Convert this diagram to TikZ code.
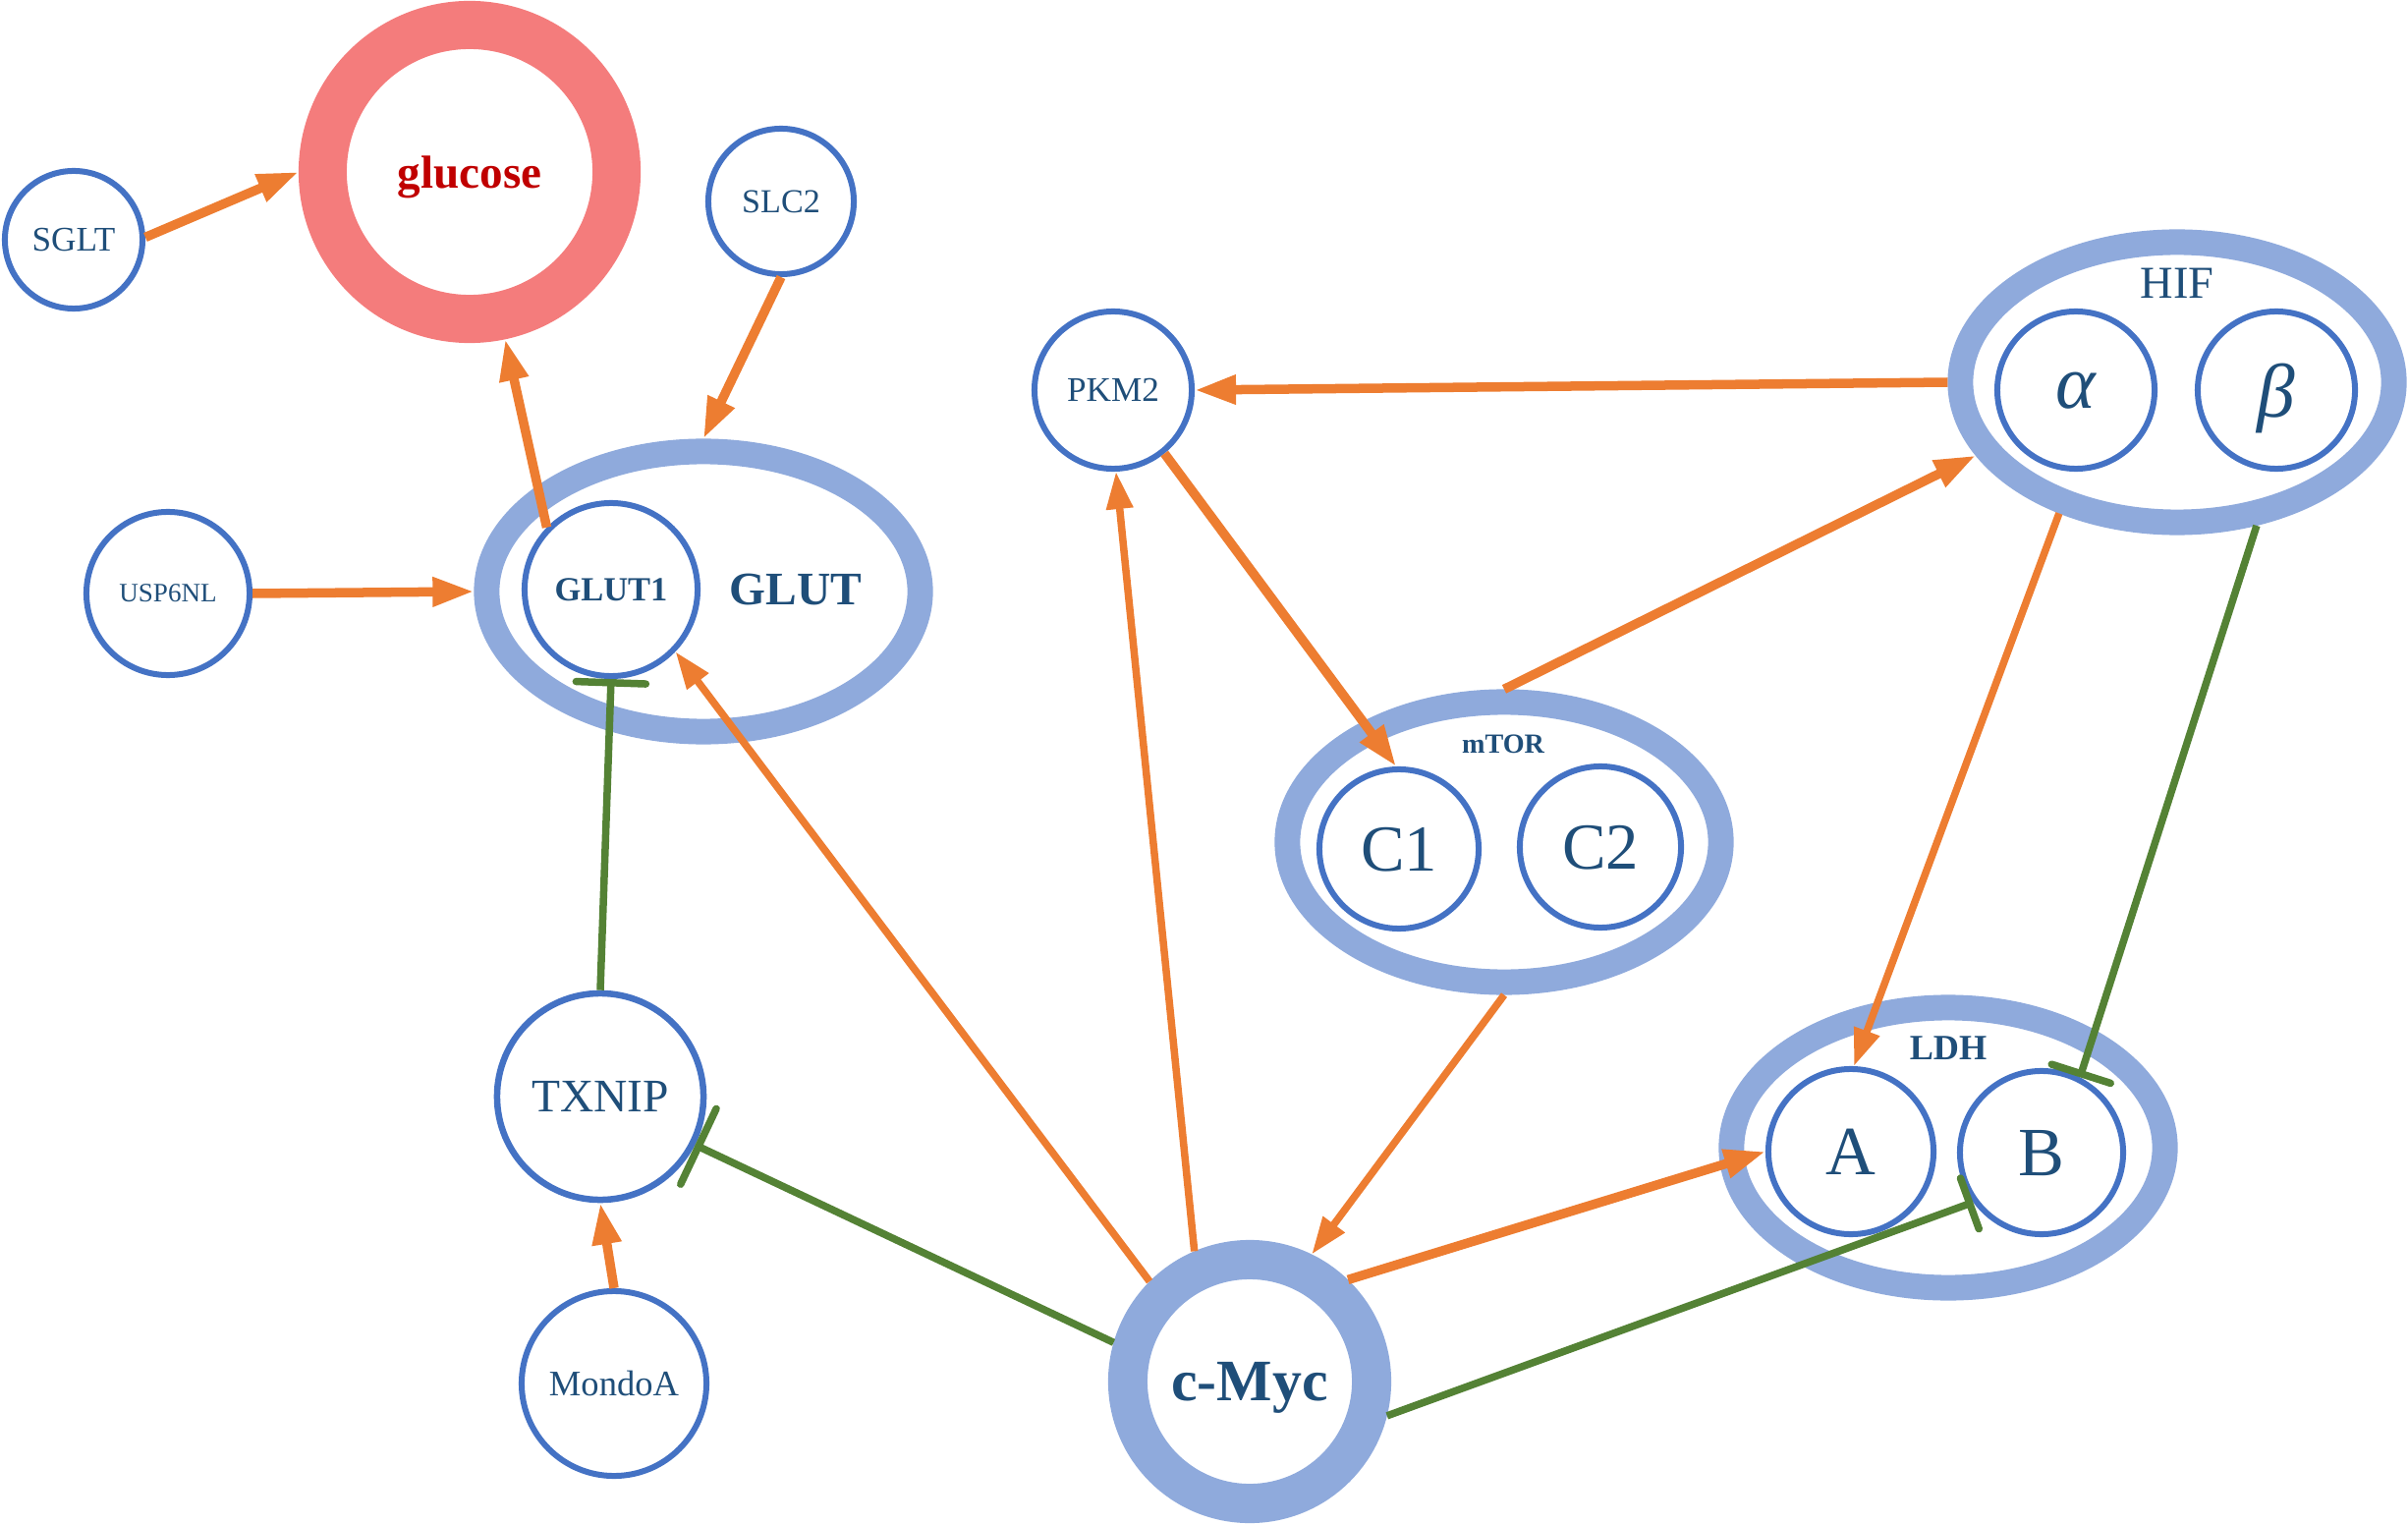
\documentclass[tikz,border=0pt]{standalone}
\usepackage{fontspec}
\setmainfont{Liberation Serif}
\usetikzlibrary{arrows.meta,shapes.geometric}
\definecolor{txtblue}{HTML}{1F4E79}
\definecolor{edgeblue}{HTML}{4472C4}
\definecolor{ringblue}{HTML}{8FAADC}
\definecolor{salmon}{HTML}{F47C7C}
\definecolor{glucred}{HTML}{C00000}
\definecolor{actorange}{HTML}{ED7D31}
\definecolor{inhgreen}{HTML}{548235}

\begin{document}
\begin{tikzpicture}[x=0.01cm,y=-0.01cm,
  fz/.style={font=\fontsize{#1}{#1}\selectfont},
  fzb/.style={font=\bfseries\fontsize{#1}{#1}\selectfont},
  mol/.style={circle, draw=edgeblue, line width=0.06cm, inner sep=0pt,
    minimum size=#1, text=txtblue, text depth=0pt},
  ring/.style={ellipse, draw=ringblue, line width=0.26cm, inner sep=0pt,
    minimum width=4.41cm, minimum height=2.85cm},
  lbl/.style={text=txtblue, inner sep=0pt, text depth=0pt},
  act/.style={draw=actorange, line width=0.095cm,
    -{Triangle[length=0.42cm,width=0.28cm]}},
  actthin/.style={draw=actorange, line width=0.075cm,
    -{Triangle[length=0.38cm,width=0.26cm]}},
  inh/.style={draw=inhgreen, line width=0.075cm, -{Bar[width=#1, round]}},
]
\useasboundingbox (0,0) rectangle (2451,1552);

% glucose and its transporters
\node[circle, draw=salmon, line width=0.49cm, minimum size=2.99cm, inner sep=0pt,
  text=glucred, text depth=0pt, fzb=13.4pt] (glucose) at (478,175) {glucose};
\node[mol=1.40cm, fz=10pt] (sglt) at (75,244) {SGLT};
\node[mol=1.48cm, fz=9.7pt] (slc2) at (795,205) {SLC2};
\node[mol=1.66cm, fz=7.7pt] (usp) at (171,604) {USP6NL};

% GLUT complex
\node[ring] (glut) at (716,602) {};
\node[mol=1.76cm, fzb=9.8pt] (glut1) at (622,600) {GLUT1};
\node[lbl, fzb=13.5pt] (gluttext) at (810,600) {GLUT};

% PKM2
\node[mol=1.60cm, fz=10pt] (pkm2) at (1133,397) {PKM2};

% HIF complex
\node[ring] (hif) at (2216,389) {};
\node[lbl, fz=13.2pt] (hiftext) at (2216,288) {HIF};
\node[mol=1.60cm, font=\itshape\fontsize{22pt}{22pt}\selectfont] (alpha) at (2113,397) {α};
\node[mol=1.60cm, font=\itshape\fontsize{22pt}{22pt}\selectfont] (beta) at (2317,397) {β};

% mTOR complex
\node[ring] (mtor) at (1531,857) {};
\node[lbl, fzb=8pt] (mtortext) at (1530,757) {mTOR};
\node[mol=1.62cm, fz=19pt] (c1) at (1424,864) {C1};
\node[mol=1.64cm, fz=19pt] (c2) at (1629,862) {C2};

% LDH complex
\node[ring] (ldh) at (1983,1168) {};
\node[lbl, fzb=10.3pt] (ldhtext) at (1983,1067) {LDH};
\node[mol=1.68cm, fz=20pt] (lda) at (1884,1172) {A};
\node[mol=1.66cm, fz=20pt] (ldb) at (2078,1173) {B};

% TXNIP, MondoA, c-Myc
\node[mol=2.10cm, line width=0.065cm, fz=13.5pt] (txnip) at (611,1116) {TXNIP};
\node[mol=1.88cm, fz=10.4pt] (mondo) at (625,1408) {MondoA};
\node[circle, draw=ringblue, line width=0.40cm, minimum size=2.48cm, inner sep=0pt,
  text=txtblue, text depth=0pt, fzb=17pt] (cmyc) at (1272,1406) {c-Myc};

% activations
\draw[act] (sglt.2) -- (glucose.180);
\draw[act] (glut1.136) -- (glucose.-78);
\draw[act] (slc2.south) -- (glut.north);
\draw[act] (usp.east) -- (glut.west);
\draw[actthin] (cmyc.135) -- (glut1.-44);
\draw[actthin] (cmyc.113) -- (pkm2.-88);
\draw[act] (hif.west) -- (pkm2.east);
\draw[act] (pkm2.-51) -- (c1.92);
\draw[act] (mtor.north) -- (hif.200);
\draw[actthin] (mtor.south) -- (cmyc.64);
\draw[actthin] (hif.228) -- (lda.88);
\draw[act] (cmyc.46) -- (lda.west);
\draw[act] (mondo.north) -- (txnip.south);

% inhibitions
\draw[inh=0.71cm] (txnip.north) -- (glut1.south);
\draw[inh=0.63cm] (hif.-61) -- (ldb.63);
\draw[inh=0.55cm] (cmyc.-14) -- (ldb.216);
\draw[inh=0.85cm] (cmyc.164) -- (txnip.-27);
\end{tikzpicture}
\end{document}
